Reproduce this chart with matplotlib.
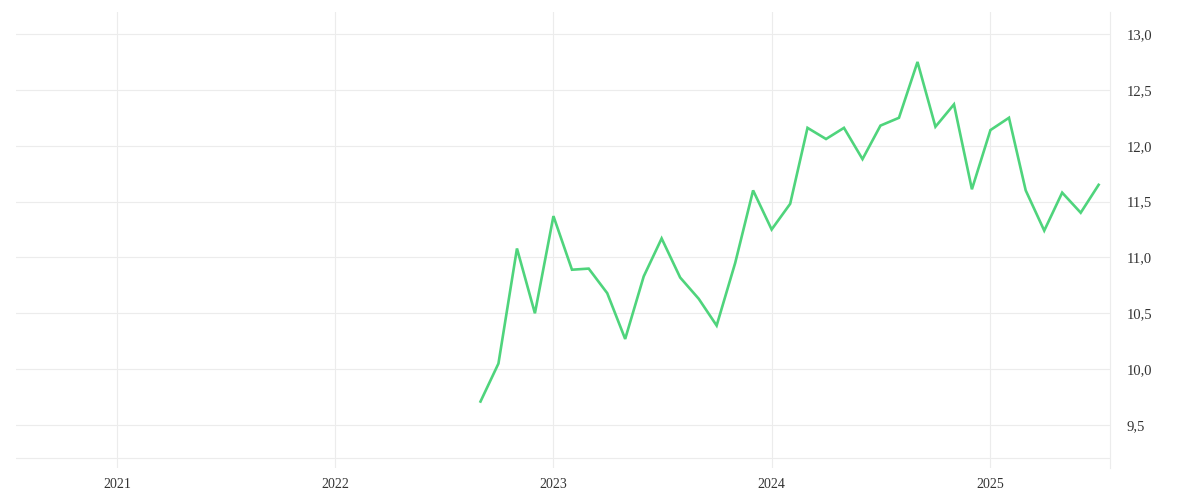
import matplotlib
matplotlib.use('Agg')
import matplotlib.pyplot as plt
import matplotlib.dates as mdates
import matplotlib.ticker as mticker
import numpy as np
import pandas as pd

# monthly values, Sep 2022 .. Jul 2025
dates = pd.date_range('2022-09-01', '2025-07-01', freq='MS')
values = [9.71, 10.05, 11.08, 10.50,
          11.37, 10.89, 10.90, 10.68, 10.27, 10.83, 11.17, 10.82, 10.63, 10.39, 10.95, 11.60,
          11.25, 11.48, 12.16, 12.06, 12.16, 11.88, 12.18, 12.25, 12.75, 12.17, 12.37, 11.61,
          12.14, 12.25, 11.60, 11.24, 11.58, 11.40, 11.65]
year_ticks = pd.to_datetime(['2021-01-01', '2022-01-01', '2023-01-01', '2024-01-01', '2025-01-01'])
y_ticks = [9.5, 10.0, 10.5, 11.0, 11.5, 12.0, 12.5, 13.0]

grid_col = '#ececec'
text_col = '#333333'
plt.rcParams['font.family'] = ['Liberation Serif', 'DejaVu Serif']

fig = plt.figure(figsize=(12, 5), dpi=100)
ax = fig.add_axes([16 / 1200, 32 / 500, (1110 - 16) / 1200, (468 - 12) / 500])

ax.plot(dates, values, color='#4fd47c', lw=1.9, solid_joinstyle='miter', zorder=3)

ax.set_xlim(pd.Timestamp('2020-07-16'), pd.Timestamp('2025-07-20'))
ax.set_ylim(9.115, 13.197)

ax.set_xticks(year_ticks)
ax.xaxis.set_major_formatter(mdates.DateFormatter('%Y'))
ax.set_yticks(y_ticks)
ax.yaxis.set_major_formatter(mticker.FuncFormatter(lambda v, p: f'{v:.1f}'.replace('.', ',')))
ax.yaxis.tick_right()

ax.grid(True, color=grid_col, lw=0.8)
ax.axhline(9.205, color=grid_col, lw=0.8, zorder=1)
ax.set_axisbelow(True)

for s in ['left', 'top', 'bottom']:
    ax.spines[s].set_visible(False)
ax.spines['right'].set_color(grid_col)
ax.spines['right'].set_linewidth(0.8)

ax.tick_params(axis='x', length=0, pad=7, labelsize=10, labelcolor=text_col)
ax.tick_params(axis='y', length=0, pad=12, labelsize=10.5, labelcolor=text_col)

fig.savefig('out.png', dpi=100)
